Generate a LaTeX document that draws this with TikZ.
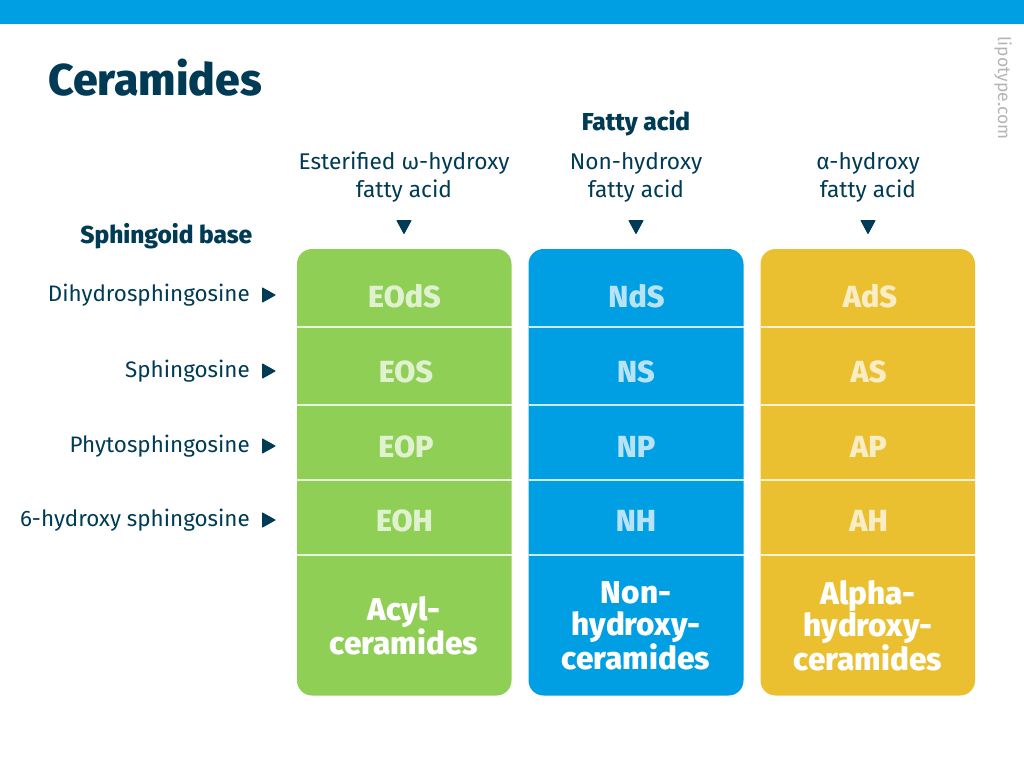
\documentclass[tikz,border=0pt]{standalone}
\usepackage{fontspec}
\setmainfont{Fira Sans}
\newfontfamily\heavy{Fira Sans ExtraBold}
\usetikzlibrary{arrows.meta}
\definecolor{cgreen}{HTML}{8FCF55}
\definecolor{cblue}{HTML}{009EE3}
\definecolor{cyellow}{HTML}{EBC030}
\definecolor{navy}{HTML}{003B55}
\definecolor{graytxt}{HTML}{B4B4B4}
\newcommand{\fs}[1]{\fontsize{#1}{#1}\selectfont}
\tikzset{
  x=1pt,y=-1pt,
  col/.style={fill=#1,draw=none,rounded corners=15pt},
  sep/.style={draw=white,draw opacity=.8,line width=1.3pt},
  fade/.style={draw=white,draw opacity=.12,line width=1.3pt},
  abbr/.style={text=white,text opacity=.72,font=\fs{30.5}\heavy,anchor=center,inner sep=0pt},
  sumlab/.style={text=white,font=\fs{31.5}\heavy,align=center,anchor=center,inner sep=0pt},
  head/.style={text=navy,font=\fs{22.7},align=center,anchor=center,inner sep=0pt},
  boldhead/.style={text=navy,font=\fs{24.5}\heavy,inner sep=0pt},
  rowlab/.style={text=navy,font=\fs{22.4},anchor=mid east,inner sep=0pt},
  tri/.style={fill=navy,draw=navy,line width=1pt,line join=round},
}
\begin{document}
\begin{tikzpicture}
\useasboundingbox (0,0) rectangle (1024,782);
\fill[cblue] (0,0) rectangle (1024,23.5);
\node[anchor=mid west,text=navy,font=\fs{44.5}\heavy,inner sep=0pt] (title) at (48,92.5) {Ceramides};
\node[rotate=-90,anchor=center,text=graytxt,font=\fs{17.5}\fontseries{l}\selectfont,inner sep=0pt] (logo) at (1003,88) {lipotype.com};
\node[boldhead,anchor=mid] (fa) at (636,128) {Fatty acid};
\node[boldhead,anchor=mid east] (sb) at (252.5,241) {Sphingoid base};
\node[head] (h1) at (404,177) {Esterified ω-hydroxy\\[5.3pt]fatty acid};
\node[head] (h2) at (636,177) {Non-hydroxy\\[5.3pt]fatty acid};
\node[head] (h3) at (868,177) {α-hydroxy\\[5.3pt]fatty acid};
\foreach \x in {404,636,868}
  \fill[tri] (\x-7,220.5) -- (\x+7,220.5) -- (\x,233.5) -- cycle;
\foreach \y/\t in {294/Dihydrosphingosine,370/Sphingosine,445/Phytosphingosine,519/6-hydroxy sphingosine}{
  \node[rowlab] at (250,\y+5) {\t};
  \fill[tri] (262.5,\y-6) -- (275,\y+1) -- (262.5,\y+8) -- cycle;
}
\fill[col=cgreen] (297,249) rectangle (511.5,695.5);
\fill[col=cblue] (528.5,249) rectangle (743.5,695.5);
\fill[col=cyellow] (760.5,249) rectangle (975,695.5);
\foreach \y in {327,405,480,555}{
  \draw[sep] (297,\y) -- (511.5,\y);
  \draw[sep] (528.5,\y) -- (743.5,\y);
  \draw[sep] (760.5,\y) -- (975,\y);
  \draw[fade] (511.5,\y) -- (528.5,\y);
  \draw[fade] (743.5,\y) -- (760.5,\y);
  \draw[fade] (975,\y) -- (986,\y);
}
\node[abbr] (a1) at (404.5,296.5) {EOdS};
\node[abbr] (a2) at (406,372) {EOS};
\node[abbr] (a3) at (406,447) {EOP};
\node[abbr] (a4) at (404.5,521) {EOH};
\node[abbr] (b1) at (636.5,296.5) {NdS};
\node[abbr] (b2) at (636,372) {NS};
\node[abbr] (b3) at (636,447) {NP};
\node[abbr] (b4) at (636,521) {NH};
\node[abbr] (c1) at (870,296.5) {AdS};
\node[abbr] (c2) at (868.5,372) {AS};
\node[abbr] (c3) at (868.5,447) {AP};
\node[abbr] (c4) at (868.5,521) {AH};
\node[sumlab] (s1) at (404,626) {Acyl-\\[0.5pt]ceramides};
\node[sumlab] (s2) at (636,626) {Non-\\[0.5pt]hydroxy-\\[0.5pt]ceramides};
\node[sumlab] (s3) at (868,626) {Alpha-\\[0.5pt]hydroxy-\\[0.5pt]ceramides};
\end{tikzpicture}
\end{document}
